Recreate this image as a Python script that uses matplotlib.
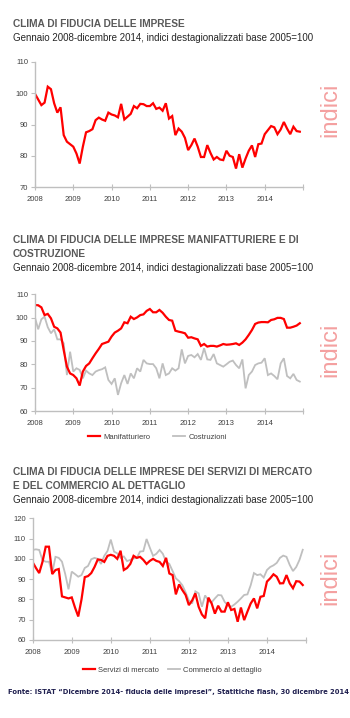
import matplotlib
matplotlib.use("Agg")
import matplotlib.pyplot as plt
from matplotlib.lines import Line2D

W, H = 350, 718

anni = ["2008", "2009", "2010", "2011", "2012", "2013", "2014"]

# Clima di fiducia delle imprese (IESI), gen 2008 - dic 2014
imprese = [
    99.8, 98.0, 96.2, 97.0, 102.1, 101.3, 96.8, 93.8, 95.5, 86.6, 84.5, 83.7,
    82.9, 80.7, 77.5, 82.9, 87.5, 87.9, 88.5, 91.4, 92.2, 91.6, 91.2, 93.8,
    93.2, 92.9, 92.3, 96.6, 91.6, 92.5, 93.4, 95.9, 95.2, 96.6, 96.5, 95.9,
    95.9, 96.8, 95.0, 95.4, 94.4, 96.8, 91.9, 92.7, 86.6, 88.7, 87.7, 85.7,
    81.8, 83.4, 85.5, 82.9, 79.6, 79.6, 83.4, 80.9, 78.8, 79.6, 78.8, 78.6,
    81.6, 80.0, 79.6, 75.9, 80.5, 76.2, 79.1, 81.6, 83.3, 79.6, 83.7, 83.9,
    86.9, 88.2, 89.5, 89.1, 86.9, 88.4, 90.8, 88.7, 86.9, 89.3, 87.9, 87.7,
]

manifatturiero = [
    105.4, 105.3, 104.4, 101.1, 101.6, 99.7, 96.1, 95.4, 93.6, 86.1, 79.0, 76.1,
    75.4, 74.0, 70.9, 76.9, 79.3, 80.4, 82.6, 84.7, 86.6, 88.7, 89.2, 89.7,
    91.9, 93.6, 94.4, 95.4, 98.0, 97.6, 100.4, 99.4, 100.1, 101.1, 101.4, 102.9,
    103.7, 102.3, 102.3, 103.3, 102.1, 100.4, 99.0, 98.7, 94.4, 94.0, 93.7, 93.3,
    91.4, 91.6, 91.1, 90.7, 87.9, 88.7, 87.6, 87.9, 87.9, 87.6, 88.1, 88.7,
    88.4, 88.5, 88.7, 89.0, 88.3, 89.3, 90.7, 92.6, 94.7, 97.3, 97.9, 98.1,
    98.1, 98.0, 99.0, 99.3, 99.9, 99.9, 99.4, 95.7, 95.7, 96.1, 96.6, 97.6,
]

costruzioni = [
    100.0, 95.0, 99.3, 100.4, 95.9, 93.3, 95.0, 90.7, 90.7, 89.0, 75.4, 85.4,
    76.9, 78.3, 77.6, 74.0, 77.3, 76.1, 75.4, 76.9, 77.5, 77.9, 78.7, 73.3,
    71.6, 74.0, 66.9, 71.9, 75.4, 71.6, 76.1, 74.0, 78.3, 76.9, 81.9, 80.4,
    80.1, 80.1, 78.3, 74.0, 80.4, 75.4, 76.1, 78.3, 77.3, 78.3, 86.4, 80.4,
    83.6, 84.0, 83.0, 84.4, 81.9, 86.9, 82.1, 81.9, 84.4, 80.4, 79.7, 79.0,
    80.0, 81.1, 81.6, 79.7, 78.3, 82.1, 69.7, 75.4, 76.9, 79.7, 80.4, 80.7,
    82.6, 75.4, 76.1, 75.0, 73.6, 80.4, 82.6, 75.0, 74.0, 75.9, 73.3, 72.6,
]

servizi = [
    98.3, 95.5, 93.0, 98.5, 106.0, 106.0, 92.5, 94.5, 95.0, 81.5, 81.0, 80.5,
    81.0, 76.0, 71.6, 80.0, 91.0, 91.5, 93.0, 96.0, 99.7, 99.5, 98.5, 101.5,
    102.0, 101.5, 100.0, 104.0, 94.5, 95.5, 97.5, 101.5, 100.5, 101.0, 99.5, 97.5,
    99.0, 100.0, 99.0, 98.5, 96.5, 100.5, 92.8, 92.0, 82.5, 87.4, 84.6, 82.2,
    77.2, 79.5, 83.0, 76.4, 72.6, 70.7, 80.9, 78.0, 73.0, 76.9, 74.0, 74.0,
    78.6, 74.8, 75.3, 69.0, 76.0, 69.8, 74.0, 78.0, 80.5, 75.6, 81.3, 81.7,
    88.8, 90.4, 92.4, 91.2, 87.9, 88.0, 92.0, 87.9, 85.5, 89.0, 88.8, 87.1,
]

commercio = [
    104.4, 104.7, 104.4, 99.4, 98.6, 98.6, 93.0, 101.0, 100.5, 98.6, 92.5, 85.0,
    93.7, 92.5, 91.2, 92.0, 95.5, 96.5, 99.8, 100.5, 100.0, 97.5, 101.5, 103.9,
    109.5, 103.6, 102.7, 100.5, 101.2, 98.9, 99.5, 100.2, 100.5, 103.6, 103.8, 109.8,
    105.5, 101.5, 102.5, 104.4, 102.5, 98.5, 97.5, 94.0, 90.4, 89.0, 87.0, 83.5,
    79.5, 78.0, 84.0, 83.0, 76.4, 82.0, 79.2, 78.6, 80.5, 82.2, 82.0, 78.8,
    77.0, 76.4, 77.5, 78.9, 80.5, 82.2, 82.5, 87.0, 93.0, 92.0, 92.4, 90.8,
    94.5, 96.0, 96.8, 98.0, 100.5, 101.6, 101.0, 97.0, 94.0, 96.0, 99.5, 104.5,
]

ROSSO = "#ff0000"
GRIGIO = "#bfbfbf"
TESTO = "#595959"

plt.rcParams["font.family"] = ["Liberation Sans", "DejaVu Sans"]


def _rect(left, top, right, bottom):
    return [left / W, 1 - bottom / H, (right - left) / W, (bottom - top) / H]


def _testo(fig, x, y, s, **kw):
    fig.text(x / W, 1 - y / H, s, va="center", ha="left", **kw)


def _asse(fig, rect, ylim, yticks, serie):
    ax = fig.add_axes(_rect(*rect))
    for valori, colore, lw in serie:
        ax.plot(range(len(valori)), valori, color=colore, linewidth=lw,
                solid_joinstyle="miter")
    ax.set_xlim(0, 84)
    ax.set_ylim(*ylim)
    ax.set_yticks(yticks)
    ax.set_xticks(range(0, 85, 12))
    ax.set_xticklabels(anni + [""])
    for lato in ("top", "right"):
        ax.spines[lato].set_visible(False)
    for lato in ("left", "bottom"):
        ax.spines[lato].set_color("#bfbfbf")
        ax.spines[lato].set_linewidth(1.0)
    ax.tick_params(axis="y", direction="out", length=3, color="#bfbfbf",
                   labelsize=5.5, labelcolor="#404040", pad=2)
    ax.tick_params(axis="x", direction="inout", length=5, color="#bfbfbf",
                   labelsize=5.5, labelcolor="#404040", pad=4)
    ax.patch.set_alpha(0)
    return ax


def _indici(fig, y):
    fig.text(330 / W, 1 - y / H, "indici", rotation=90, ha="center",
             va="center", fontsize=17, color="#f4a0a0",
             family=["Liberation Sans", "DejaVu Sans"])


def _legenda(fig, etichette, x, y, spazio):
    maniglie = [Line2D([], [], color=ROSSO, lw=1.6),
                Line2D([], [], color=GRIGIO, lw=1.3)]
    fig.legend(maniglie, etichette, ncol=2, frameon=False, loc="center left",
               bbox_to_anchor=(x / W, 1 - y / H), borderaxespad=0, borderpad=0,
               fontsize=5.5, handlelength=1.6, handletextpad=0.4,
               columnspacing=spazio, labelcolor="#404040")


fig = plt.figure(figsize=(W / 100, H / 100), dpi=100)
fig.patch.set_facecolor("white")

titolo = dict(fontsize=7.3, fontweight="bold", color=TESTO)
sotto = dict(fontsize=7.0, color="#262626")
SOTTOTITOLO = "Gennaio 2008-dicembre 2014, indici destagionalizzati base 2005=100"

# --- grafico 1
_testo(fig, 13, 24, "CLIMA DI FIDUCIA DELLE IMPRESE", **titolo)
_testo(fig, 13, 38, SOTTOTITOLO, **sotto)
_asse(fig, (35, 62, 303, 187), (70, 110), range(70, 111, 10),
      [(imprese, ROSSO, 1.6)])
_indici(fig, 110)

# --- grafico 2
_testo(fig, 13, 240, "CLIMA DI FIDUCIA DELLE IMPRESE MANIFATTURIERE E DI", **titolo)
_testo(fig, 13, 254, "COSTRUZIONE", **titolo)
_testo(fig, 13, 268, SOTTOTITOLO, **sotto)
_asse(fig, (35, 294.3, 303, 411), (60, 110), range(60, 111, 10),
      [(costruzioni, GRIGIO, 1.3), (manifatturiero, ROSSO, 1.6)])
_indici(fig, 350)
_legenda(fig, ["Manifatturiero", "Costruzioni"], 88, 437, 3.0)

# --- grafico 3
_testo(fig, 13, 472, "CLIMA DI FIDUCIA DELLE IMPRESE DEI SERVIZI DI MERCATO", **titolo)
_testo(fig, 13, 486, "E DEL COMMERCIO AL DETTAGLIO", **titolo)
_testo(fig, 13, 500, SOTTOTITOLO, **sotto)
_asse(fig, (32.7, 518.3, 306, 640), (60, 120), range(60, 121, 10),
      [(commercio, GRIGIO, 1.3), (servizi, ROSSO, 1.6)])
_indici(fig, 578)
_legenda(fig, ["Servizi di mercato", "Commercio al dettaglio"], 83, 670, 1.1)

fig.text(8 / W, 1 - 692 / H,
         "Fonte: ISTAT \u201cDicembre 2014- fiducia delle impresei\u201d, "
         "Statitiche flash, 30 dicembre 2014",
         ha="left", va="center", fontsize=4.85, fontweight="bold",
         color="#1f1f4f", family="DejaVu Sans")

fig.savefig("out.png", dpi=100)
